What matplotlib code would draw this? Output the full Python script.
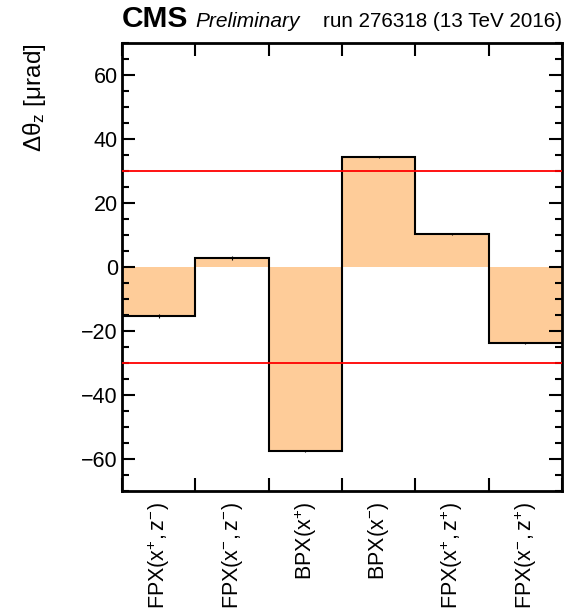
import matplotlib
matplotlib.use("Agg")
import matplotlib.pyplot as plt
import numpy as np

plt.rcParams['font.family'] = ['Liberation Sans', 'DejaVu Sans']
plt.rcParams['mathtext.fontset'] = 'custom'
plt.rcParams['mathtext.rm'] = 'Liberation Sans'
plt.rcParams['mathtext.it'] = 'Liberation Sans:italic'

categories = [r"$\mathregular{FPX(x^{+},z^{-})}$",
              r"$\mathregular{FPX(x^{-},z^{-})}$",
              r"$\mathregular{BPX(x^{+})}$",
              r"$\mathregular{BPX(x^{-})}$",
              r"$\mathregular{FPX(x^{+},z^{+})}$",
              r"$\mathregular{FPX(x^{-},z^{+})}$"]
values = [-15.2, 2.9, -57.5, 34.4, 10.3, -23.7]
errors = [0.6, 0.6, 0.4, 0.4, 0.4, 0.4]
limits = [30, -30]

fig = plt.figure(figsize=(5.72, 6.11), dpi=100)
ax = fig.add_axes([0.2133, 0.1964, 0.7692, 0.7332])

n = len(values)
edges = np.arange(n + 1)
centers = edges[:-1] + 0.5

ax.bar(centers, values, width=1.0, color='#fecc99', edgecolor='none', zorder=1)
ax.stairs(values, edges, color='black', linewidth=1.5, zorder=3, baseline=None)
ax.errorbar(centers, values, yerr=errors, fmt='none', ecolor='black', elinewidth=0.8, zorder=3)
for l in limits:
    ax.axhline(l, color='red', linewidth=1.3, zorder=4)

ax.set_xlim(0, n)
ax.set_ylim(-70, 70)
ax.set_xticks(edges)
ax.set_xticklabels([])
ax.set_yticks(np.arange(-60, 61, 20))
ax.set_yticklabels([("\u2212%d" % -v) if v < 0 else "%d" % v for v in range(-60, 61, 20)])
ax.set_yticks(np.arange(-70, 71, 5), minor=True)
ax.tick_params(axis='both', which='major', direction='in', length=9.5, width=1.5,
               top=True, right=True, labelsize=15.5, pad=3)
ax.tick_params(axis='y', which='minor', direction='in', length=5, width=1.5, right=True)
ax.tick_params(axis='x', which='minor', bottom=False, top=False)
for s in ax.spines.values():
    s.set_linewidth(2)

for c, lab in zip(centers, categories):
    ax.text(c, -0.025, lab, transform=ax.get_xaxis_transform(), rotation=90,
            ha='center', va='top', fontsize=15.5)

fig.text(0.061, 0.9296, r"$\mathregular{\Delta\theta_{z}}$" + " [\u03bcrad]", rotation=90,
         ha='center', va='top', fontsize=17.5)

fig.text(0.2133, 0.956, "CMS", fontsize=21.5, fontweight='bold', ha='left', va='baseline')
fig.text(0.341, 0.956, "Preliminary", fontsize=15, style='italic', ha='left', va='baseline')
fig.text(0.9825, 0.956, "run 276318 (13 TeV 2016)", fontsize=14.9, ha='right', va='baseline')

fig.savefig("out.png", dpi=100)
